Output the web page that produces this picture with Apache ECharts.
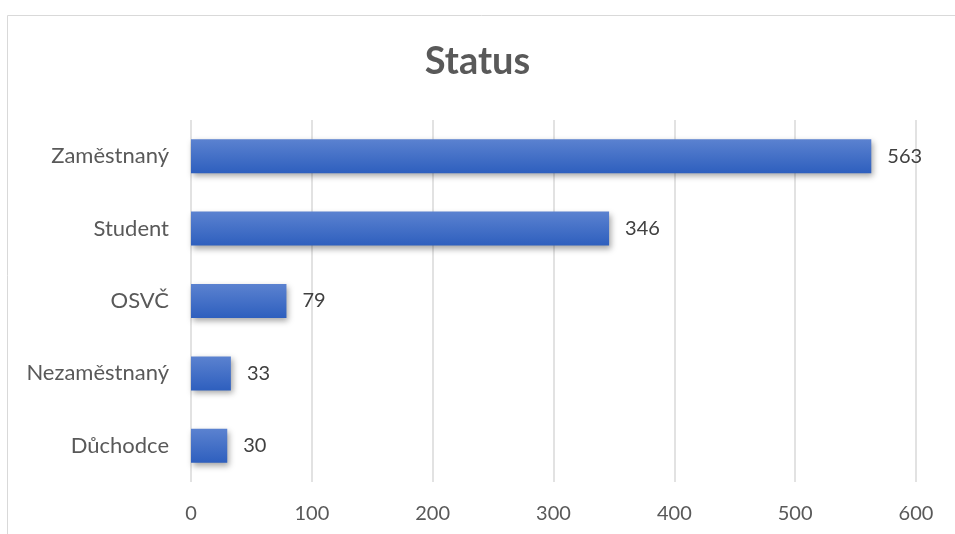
<!DOCTYPE html>
<html>
<head>
<meta charset="utf-8">
<script src="https://cdn.jsdelivr.net/npm/echarts@6/dist/echarts.min.js"></script>
<style>
  html, body { margin: 0; padding: 0; background: #fff; }
  #chart { width: 955px; height: 534px; }
</style>
</head>
<body>
<div id="chart"></div>
<script>
// data, top to bottom in the picture
const categories = ['Zaměstnaný', 'Student', 'OSVČ', 'Nezaměstnaný', 'Důchodce']
const counts = [563, 346, 79, 33, 30]
const xTicks = { min: 0, max: 600, interval: 100 }

const font = 'Lato, "Open Sans", "Noto Sans", sans-serif'

let myechart = echarts.init(document.getElementById('chart'))
let option = {
  animation: false,
  title: {
    text: 'Status',
    left: 'center',
    top: 38,
    textStyle: { fontFamily: font, fontSize: 38, fontWeight: 'bold', color: '#595959' }
  },
  graphic: [
    {
      type: 'rect',
      silent: true,
      shape: { x: 7.5, y: 15.5, width: 1200, height: 1200 },
      style: { fill: 'none', stroke: '#d9d9d9', lineWidth: 1 }
    }
  ],
  grid: { left: 191, right: 39, top: 120, bottom: 52 },
  xAxis: {
    type: 'value',
    min: xTicks.min,
    max: xTicks.max,
    interval: xTicks.interval,
    axisLine: { show: false },
    axisTick: { show: false },
    axisLabel: { fontFamily: font, fontSize: 20, color: '#595959', margin: 22 },
    splitLine: { lineStyle: { color: '#d9d9d9', width: 1.5 } }
  },
  yAxis: {
    type: 'category',
    data: categories,
    inverse: true,
    axisLine: { show: false },
    axisTick: { show: false },
    axisLabel: { fontFamily: font, fontSize: 22, color: '#595959', margin: 22 }
  },
  series: [
    {
      type: 'bar',
      data: counts,
      barWidth: '47%',
      itemStyle: {
        color: new echarts.graphic.LinearGradient(0, 0, 0, 1, [
          { offset: 0, color: '#5b82d0' },
          { offset: 1, color: '#2e5fbe' }
        ]),
        shadowColor: 'rgba(0, 0, 0, 0.35)',
        shadowBlur: 6,
        shadowOffsetX: 2,
        shadowOffsetY: 3
      },
      label: {
        show: true,
        position: 'right',
        distance: 16,
        fontFamily: font,
        fontSize: 20,
        color: '#404040'
      }
    }
  ]
}
option && myechart.setOption(option)
</script>
</body>
</html>
